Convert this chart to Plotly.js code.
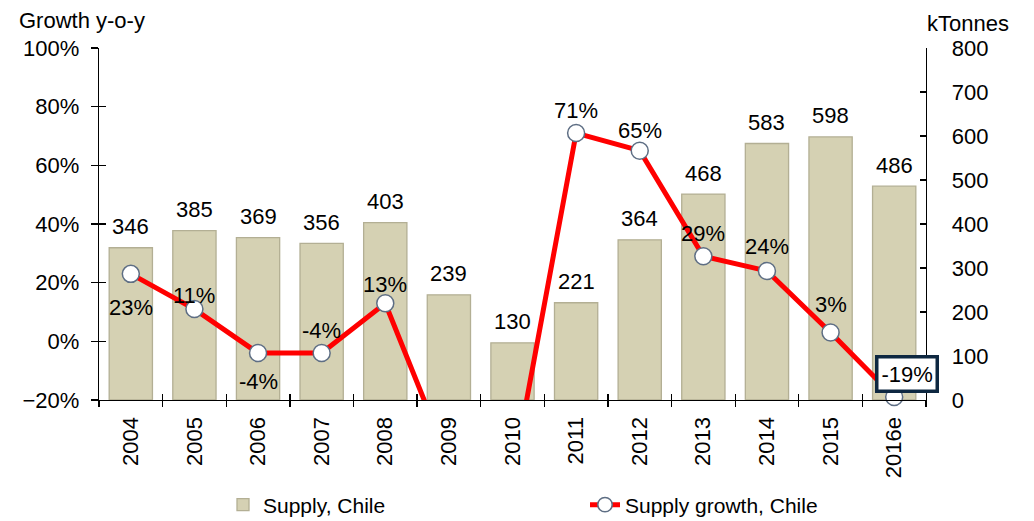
<!DOCTYPE html>
<html>
<head>
<meta charset="utf-8">
<script src="https://cdn.plot.ly/plotly-3.0.1.min.js"></script>
<style>html,body{margin:0;padding:0;background:#fff;}#chart{width:1034px;height:521px;}</style>
</head>
<body>
<div id="chart"></div>
<script>
// ---- data ----
const years = ['2004','2005','2006','2007','2008','2009','2010','2011','2012','2013','2014','2015','2016e'];
const supply = [346, 385, 369, 356, 403, 239, 130, 221, 364, 468, 583, 598, 486];
const growth = [23, 11, -4, -4, 13, -41, -46, 71, 65, 29, 24, 3, -19];
const supplyName = 'Supply, Chile';
const growthName = 'Supply growth, Chile';

// ---- style ----
const FONT = 'Arial, "Liberation Sans", sans-serif';
const FS = 22;
const barFill = '#D5D1B3';
const barLine = '#B3AF94';
const lineRed = '#FF0000';
const markerEdge = '#5E6E84';
// growth label vertical offset in px (positive = above the point, negative = below)
const growthLabelUp = [-34, 14, -28, 23, 19, 0, 0, 23, 20, 23, 24, 28, 0];
const yMin = -20, yMax = 100;

const idx = years.map((_, i) => i);
const inRange = growth.map(v => v >= yMin && v <= yMax);
const boxedIndex = growth.length - 1;

const barTrace = {
  type: 'bar', x: years, y: supply, xaxis: 'x', yaxis: 'y', name: supplyName,
  marker: {color: barFill, line: {color: barLine, width: 1.3}},
  width: 0.68
};
const lineTrace = {
  type: 'scatter', mode: 'lines+markers', x: years, y: growth, xaxis: 'x', yaxis: 'y2', name: growthName,
  line: {color: lineRed, width: 5},
  marker: {size: inRange.map(r => r ? 17 : 0), color: 'rgb(255,255,255)', opacity: 1,
           line: {color: markerEdge, width: 1.5}},
  cliponaxis: false
};
// helper trace so the overlay axes carrying the inner halves of the crossing ticks exist
const helper = {
  type: 'scatter', mode: 'markers', x: years, y: growth, xaxis: 'x2', yaxis: 'y3',
  marker: {size: 0, opacity: 0}, showlegend: false, hoverinfo: 'skip'
};

const txtFont = {family: FONT, size: FS, color: '#000'};
const annotations = [];
idx.forEach(i => {
  annotations.push({
    x: i, y: supply[i], xref: 'x', yref: 'y', text: String(supply[i]),
    showarrow: false, yanchor: 'middle', yshift: 21, font: txtFont
  });
  if (inRange[i] && i !== boxedIndex) {
    annotations.push({
      x: i, y: growth[i], xref: 'x', yref: 'y2', text: growth[i] + '%',
      showarrow: false, yanchor: 'middle', yshift: growthLabelUp[i], font: txtFont
    });
  }
});
annotations.push({
  x: boxedIndex, y: growth[boxedIndex], xref: 'x', yref: 'y2',
  text: growth[boxedIndex] + '%', showarrow: false, yanchor: 'middle',
  xshift: 13, yshift: 23, bordercolor: '#0E2841', borderwidth: 3.5, borderpad: 3,
  bgcolor: '#ffffff', font: txtFont
});
annotations.push({
  xref: 'paper', yref: 'paper', x: -0.0992, y: 1.0795, xanchor: 'left', yanchor: 'middle',
  text: 'Growth y-o-y', showarrow: false, font: txtFont
});
annotations.push({
  xref: 'paper', yref: 'paper', x: 0.9988, y: 1.071, xanchor: 'left', yanchor: 'middle',
  text: 'kTonnes', showarrow: false, font: txtFont
});

const tickCommon = {tickcolor: '#000', tickwidth: 1.3};
const layout = {
  width: 1034, height: 521,
  margin: {l: 99, r: 108, t: 48, b: 121},
  paper_bgcolor: '#fff', plot_bgcolor: '#fff',
  font: txtFont,
  xaxis: Object.assign({
    type: 'category', categoryarray: years, range: [-0.5, years.length - 0.5],
    showline: true, linecolor: '#000', linewidth: 1.3, showgrid: false, zeroline: false,
    ticks: 'outside', ticklen: 6, tickson: 'boundaries',
    tickangle: -90, tickfont: txtFont, ticklabelstandoff: 7, anchor: 'y'
  }, tickCommon),
  xaxis2: Object.assign({
    type: 'category', categoryarray: years, range: [-0.5, years.length - 0.5],
    overlaying: 'x', anchor: 'y3', showline: false, showgrid: false, zeroline: false,
    ticks: 'inside', ticklen: 6, tickson: 'boundaries', showticklabels: false
  }, tickCommon),
  yaxis: Object.assign({
    range: [0, 800], dtick: 100, side: 'right', anchor: 'x',
    showline: true, linecolor: '#000', linewidth: 1.3, showgrid: false, zeroline: false,
    ticks: 'inside', ticklen: 6, tickfont: txtFont, ticklabelstandoff: 20
  }, tickCommon),
  yaxis2: Object.assign({
    range: [yMin, yMax], dtick: 20, ticksuffix: '%', side: 'left', overlaying: 'y', anchor: 'x',
    showline: true, linecolor: '#000', linewidth: 1.3, showgrid: false, zeroline: false,
    ticks: 'outside', ticklen: 7, tickfont: txtFont, ticklabelstandoff: 7
  }, tickCommon),
  yaxis3: Object.assign({
    range: [yMin, yMax], dtick: 20, overlaying: 'y', side: 'left', anchor: 'x2',
    showline: false, showgrid: false, zeroline: false,
    ticks: 'inside', ticklen: 7, showticklabels: false
  }, tickCommon),
  showlegend: true,
  legend: {
    orientation: 'h', xref: 'container', yref: 'container', x: 223 / 1034, y: 1 - 505 / 521,
    xanchor: 'left', yanchor: 'middle', entrywidth: 317, entrywidthmode: 'pixels',
    font: {family: FONT, size: 21, color: '#000'}, bgcolor: 'rgba(0,0,0,0)', traceorder: 'normal'
  },
  annotations: annotations
};

Plotly.newPlot('chart', [barTrace, lineTrace, helper], layout, {displayModeBar: false, staticPlot: true});
</script>
</body>
</html>
